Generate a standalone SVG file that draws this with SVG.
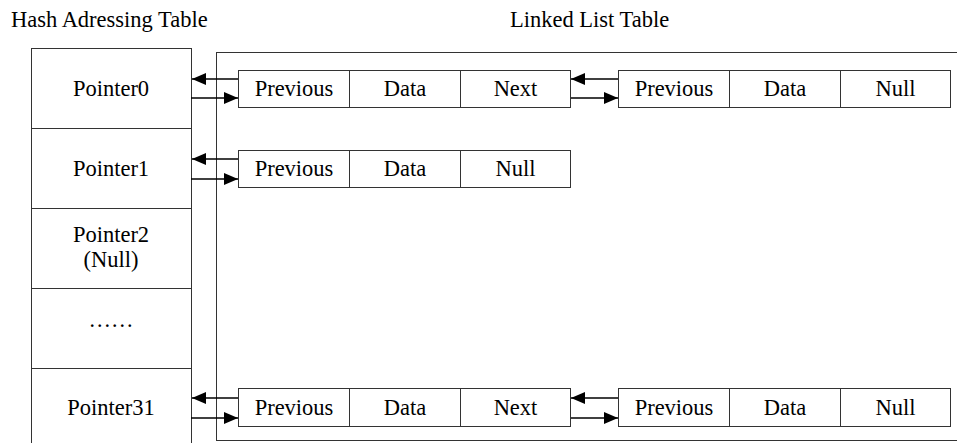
<svg xmlns="http://www.w3.org/2000/svg" width="957" height="443" viewBox="0 0 957 443">
  <style>
    text { font-family: "Liberation Serif", "Times New Roman", serif; font-size: 22.5px; fill: #000; }
    .c { text-anchor: middle; }
    .box { fill: #fff; stroke: #333; stroke-width: 1; }
    .ln { stroke: #333; stroke-width: 1; fill: none; }
    .arr { stroke: #000; stroke-width: 1.4; fill: none; marker-end: url(#head); }
  </style>
  <defs>
    <marker id="head" markerUnits="userSpaceOnUse" markerWidth="15" markerHeight="13" refX="14" refY="6.5" orient="auto">
      <path d="M0,0.5 L14,6.5 L0,12.5 Z" fill="#000"/>
    </marker>
  </defs>
  <rect width="957" height="443" fill="#fff"/>

  <!-- titles -->
  <text x="11" y="27">Hash Adressing Table</text>
  <text x="510" y="27">Linked List Table</text>

  <!-- hash addressing table -->
  <g id="hash-table">
    <rect class="box" x="31.5" y="48.5" width="160" height="400"/>
    <line class="ln" x1="31.5" y1="128.5" x2="191.5" y2="128.5"/>
    <line class="ln" x1="31.5" y1="208.5" x2="191.5" y2="208.5"/>
    <line class="ln" x1="31.5" y1="288.5" x2="191.5" y2="288.5"/>
    <line class="ln" x1="31.5" y1="368.5" x2="191.5" y2="368.5"/>
    <text class="c" x="111" y="96">Pointer0</text>
    <text class="c" x="111" y="176">Pointer1</text>
    <text class="c" x="111" y="242">Pointer2</text>
    <text class="c" x="111" y="267">(Null)</text>
    <text class="c" x="111" y="327">……</text>
    <text class="c" x="111" y="415">Pointer31</text>
  </g>

  <!-- linked list table frame -->
  <g id="list-table">
    <rect class="box" x="216.5" y="52.5" width="760" height="388"/>
  </g>

  <!-- row 0 -->
  <g id="node-0a">
    <rect class="box" x="238.5" y="70.5" width="332" height="37"/>
    <line class="ln" x1="349.5" y1="70.5" x2="349.5" y2="107.5"/>
    <line class="ln" x1="460.5" y1="70.5" x2="460.5" y2="107.5"/>
    <text class="c" x="294" y="96">Previous</text>
    <text class="c" x="405" y="96">Data</text>
    <text class="c" x="515.5" y="96">Next</text>
  </g>
  <g id="node-0b">
    <rect class="box" x="618.5" y="70.5" width="332" height="37"/>
    <line class="ln" x1="729.5" y1="70.5" x2="729.5" y2="107.5"/>
    <line class="ln" x1="840.5" y1="70.5" x2="840.5" y2="107.5"/>
    <text class="c" x="674" y="96">Previous</text>
    <text class="c" x="785" y="96">Data</text>
    <text class="c" x="895.5" y="96">Null</text>
  </g>

  <!-- row 1 -->
  <g id="node-1a">
    <rect class="box" x="238.5" y="150.5" width="332" height="37"/>
    <line class="ln" x1="349.5" y1="150.5" x2="349.5" y2="187.5"/>
    <line class="ln" x1="460.5" y1="150.5" x2="460.5" y2="187.5"/>
    <text class="c" x="294" y="176">Previous</text>
    <text class="c" x="405" y="176">Data</text>
    <text class="c" x="515.5" y="176">Null</text>
  </g>

  <!-- row 31 -->
  <g id="node-31a">
    <rect class="box" x="238.5" y="388.5" width="332" height="38"/>
    <line class="ln" x1="349.5" y1="388.5" x2="349.5" y2="426.5"/>
    <line class="ln" x1="460.5" y1="388.5" x2="460.5" y2="426.5"/>
    <text class="c" x="294" y="415">Previous</text>
    <text class="c" x="405" y="415">Data</text>
    <text class="c" x="515.5" y="415">Next</text>
  </g>
  <g id="node-31b">
    <rect class="box" x="618.5" y="388.5" width="332" height="38"/>
    <line class="ln" x1="729.5" y1="388.5" x2="729.5" y2="426.5"/>
    <line class="ln" x1="840.5" y1="388.5" x2="840.5" y2="426.5"/>
    <text class="c" x="674" y="415">Previous</text>
    <text class="c" x="785" y="415">Data</text>
    <text class="c" x="895.5" y="415">Null</text>
  </g>

  <!-- connectors -->
  <g id="connectors">
    <line class="arr" x1="238" y1="79" x2="192" y2="79"/>
    <line class="arr" x1="191" y1="98" x2="238" y2="98"/>
    <line class="arr" x1="618" y1="79" x2="571" y2="79"/>
    <line class="arr" x1="571" y1="98" x2="618" y2="98"/>

    <line class="arr" x1="238" y1="159" x2="192" y2="159"/>
    <line class="arr" x1="191" y1="179" x2="238" y2="179"/>

    <line class="arr" x1="238" y1="398" x2="192" y2="398"/>
    <line class="arr" x1="191" y1="418" x2="238" y2="418"/>
    <line class="arr" x1="618" y1="398" x2="571" y2="398"/>
    <line class="arr" x1="571" y1="418" x2="618" y2="418"/>
  </g>
</svg>
